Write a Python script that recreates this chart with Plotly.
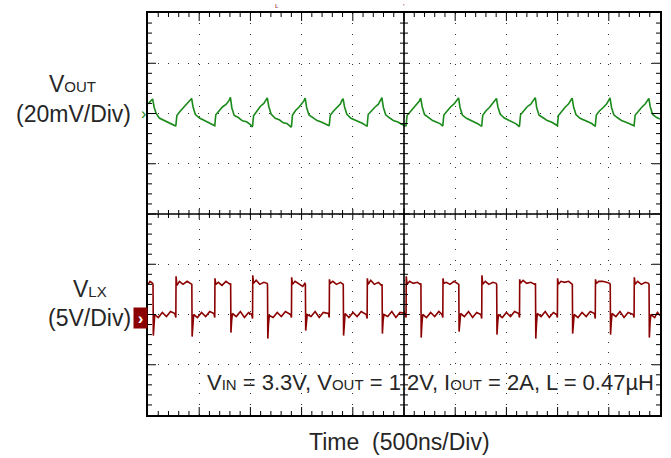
import plotly.graph_objects as go

# ---------------- data ----------------
# time in ns (500 ns / div, 10 div), VOUT ripple in mV (AC, 20 mV/div), VLX in V (5 V/div)
VOUT_T_NS = [
    0, 20, 45, 60, 80, 110, 150, 190, 230, 265,
    272, 282, 312, 347, 382, 413, 426, 440, 463, 503, 543, 583, 618, 647,
    652, 662, 692, 727, 762, 792, 805, 819, 842, 882, 922, 962, 997, 1016,
    1021, 1031, 1061, 1096, 1131, 1152, 1165, 1179, 1202, 1242, 1282, 1322, 1357, 1396,
    1401, 1411, 1441, 1476, 1511, 1522, 1535, 1549, 1572, 1612, 1652, 1692, 1727, 1765,
    1770, 1780, 1810, 1845, 1880, 1892, 1905, 1919, 1942, 1982, 2022, 2062, 2097, 2135,
    2140, 2150, 2180, 2215, 2250, 2271, 2284, 2298, 2321, 2361, 2401, 2441, 2476, 2515,
    2520, 2530, 2560, 2595, 2630, 2650, 2663, 2677, 2700, 2740, 2780, 2820, 2855, 2874,
    2879, 2889, 2919, 2954, 2989, 3020, 3033, 3047, 3070, 3110, 3150, 3190, 3225, 3254,
    3259, 3269, 3299, 3334, 3369, 3390, 3403, 3417, 3440, 3480, 3520, 3560, 3595, 3623,
    3628, 3638, 3668, 3703, 3738, 3769, 3782, 3796, 3819, 3859, 3899, 3939, 3974, 3993,
    3998, 4008, 4038, 4073, 4108, 4129, 4142, 4156, 4179, 4219, 4259, 4299, 4334, 4363,
    4368, 4378, 4408, 4443, 4478, 4499, 4512, 4526, 4549, 4589, 4629, 4669, 4704, 4742,
    4747, 4757, 4787, 4822, 4857, 4878, 4891, 4905, 4928, 4968, 5000,
]
VOUT_MV = [
    3.8, 4.6, 5.8, 2.5, 0.0, -1.8, -2.6, -3.6, -4.2, -4.9,
    -4.8, -0.8, 0.8, 2.4, 3.8, 5.0, 6.0, 2.6, -0.4, -1.8, -2.7, -3.5, -4.1, -4.9,
    -4.9, -0.5, 1.0, 2.6, 3.6, 5.2, 6.4, 2.2, -0.8, -1.6, -2.9, -3.3, -4.3, -5.2,
    -5.0, -0.9, 0.6, 2.8, 4.0, 5.4, 6.2, 2.9, -0.2, -1.9, -2.5, -3.7, -4.0, -5.3,
    -5.1, -0.6, 1.2, 2.6, 4.2, 5.0, 6.1, 2.4, -0.6, -1.7, -2.8, -3.4, -4.2, -4.8,
    -4.7, -0.7, 0.9, 2.2, 3.9, 5.1, 5.9, 2.7, -0.3, -1.9, -2.6, -3.6, -4.0, -5.0,
    -5.0, -0.4, 1.1, 2.5, 3.7, 5.3, 6.3, 2.5, -0.5, -1.8, -2.9, -3.4, -4.3, -4.9,
    -4.9, -0.8, 0.7, 2.3, 3.9, 5.0, 6.1, 2.8, -0.4, -1.7, -2.8, -3.5, -4.1, -4.9,
    -4.8, -0.6, 0.9, 2.6, 3.8, 5.2, 6.2, 2.4, -0.6, -1.9, -2.6, -3.6, -4.2, -5.0,
    -5.0, -0.7, 1.0, 2.4, 4.0, 5.1, 6.0, 2.6, -0.3, -1.8, -2.7, -3.5, -4.1, -5.1,
    -4.9, -0.5, 1.2, 2.7, 3.7, 5.3, 6.3, 2.3, -0.7, -1.7, -2.8, -3.4, -4.2, -4.8,
    -4.8, -0.8, 0.8, 2.5, 3.9, 5.0, 6.1, 2.7, -0.4, -1.9, -2.6, -3.6, -4.0, -5.0,
    -5.0, -0.6, 1.0, 2.3, 3.8, 5.2, 6.2, 2.5, -0.5, -1.8, -2.9, -3.5, -4.1, -4.9,
    -4.9, -0.7, 0.9, 2.5, 3.9, 5.1, 6.0, 2.6, -0.4, -1.6, -2.2,
]

VLX_T_NS = [
    0, 20, 45, 49, 52, 58, 66, 100, 140, 180, 220, 262, 270,
    272, 274, 282, 307, 342, 382, 423, 428, 431, 438, 446, 483, 523, 563, 603, 644, 652,
    654, 662, 687, 722, 762, 802, 807, 810, 817, 825, 862, 902, 942, 982, 1013, 1021,
    1023, 1031, 1056, 1091, 1131, 1162, 1167, 1170, 1177, 1185, 1222, 1262, 1302, 1342, 1393, 1401,
    1403, 1411, 1436, 1471, 1511, 1532, 1537, 1540, 1547, 1555, 1592, 1632, 1672, 1712, 1762, 1770,
    1772, 1780, 1805, 1840, 1880, 1902, 1907, 1910, 1917, 1925, 1962, 2002, 2042, 2082, 2132, 2140,
    2142, 2150, 2175, 2210, 2250, 2281, 2286, 2289, 2296, 2304, 2341, 2381, 2421, 2461, 2512, 2520,
    2522, 2530, 2555, 2590, 2630, 2660, 2665, 2668, 2675, 2683, 2720, 2760, 2800, 2840, 2871, 2879,
    2881, 2889, 2914, 2949, 2989, 3030, 3035, 3038, 3045, 3053, 3090, 3130, 3170, 3210, 3251, 3259,
    3261, 3269, 3294, 3329, 3369, 3400, 3405, 3408, 3415, 3423, 3460, 3500, 3540, 3580, 3620, 3628,
    3630, 3638, 3663, 3698, 3738, 3779, 3784, 3787, 3794, 3802, 3839, 3879, 3919, 3959, 3990, 3998,
    4000, 4008, 4033, 4068, 4108, 4139, 4144, 4147, 4154, 4162, 4199, 4239, 4279, 4319, 4360, 4368,
    4370, 4378, 4403, 4438, 4478, 4509, 4514, 4517, 4524, 4532, 4569, 4609, 4649, 4689, 4739, 4747,
    4749, 4757, 4782, 4817, 4857, 4888, 4893, 4896, 4903, 4911, 4948, 4975, 5000,
]
VLX_V = [
    3.0, 3.3, 3.1, 3.0, -2.1, -0.7, 0.0, -0.3, 0.2, -0.2, 0.3, 0.1, -0.3,
    -0.3, 3.8, 2.9, 3.3, 3.0, 3.3, 3.1, 3.0, -2.2, -0.8, 0.0, -0.3, 0.2, -0.2, 0.3, 0.1, -0.3,
    3.6, 3.0, 3.2, 2.9, 3.3, 3.0, 3.1, -1.8, -0.6, 0.1, -0.2, 0.3, -0.3, 0.2, 0.0, -0.4,
    3.9, 3.1, 3.4, 3.0, 3.2, 3.1, 3.0, -2.4, -0.9, -0.1, -0.3, 0.2, -0.2, 0.3, 0.0, -0.3,
    3.7, 3.0, 3.3, 3.1, 2.8, 3.1, 3.0, -1.6, -0.7, 0.0, -0.2, 0.3, -0.3, 0.2, 0.1, -0.3,
    3.5, 3.1, 3.3, 3.0, 3.2, 3.1, 3.0, -2.1, -0.8, 0.1, -0.3, 0.2, -0.2, 0.3, 0.0, -0.4,
    3.6, 3.0, 3.4, 3.0, 3.2, 2.9, 3.0, -1.9, -0.6, 0.0, -0.2, 0.3, -0.3, 0.2, 0.1, -0.3,
    3.8, 3.0, 3.3, 3.1, 3.2, 3.0, 3.1, -2.3, -0.9, 0.0, -0.3, 0.2, -0.2, 0.3, 0.0, -0.3,
    3.6, 3.1, 3.2, 3.0, 3.3, 3.1, 3.0, -1.7, -0.7, 0.1, -0.2, 0.3, -0.3, 0.2, 0.0, -0.4,
    3.9, 3.0, 3.3, 3.0, 3.2, 3.1, 3.0, -2.0, -0.8, 0.0, -0.3, 0.2, -0.2, 0.3, 0.1, -0.3,
    3.5, 3.1, 3.4, 3.1, 3.2, 3.0, 3.1, -2.4, -0.9, 0.1, -0.2, 0.3, -0.3, 0.2, 0.0, -0.3,
    3.6, 3.0, 3.3, 3.2, 3.3, 3.1, 3.0, -1.9, -0.7, 0.0, -0.3, 0.2, -0.2, 0.3, 0.1, -0.4,
    3.5, 3.1, 3.3, 3.3, 3.2, 3.1, 3.0, -2.0, -0.8, 0.1, -0.2, 0.3, -0.3, 0.2, 0.0, -0.3,
    3.7, 3.0, 3.3, 3.0, 3.2, 3.1, 3.0, -2.3, -0.8, 0.0, -0.3, 0.2, -0.1,
]

TIME_RANGE_NS = [0, 5000]      # 10 div x 500 ns
TIME_DIV_NS = 500
TIME_SUBDIV_NS = 100
VOUT_RANGE_MV = [-120, 40]     # 8 div x 20 mV, 0 mV two div below top
VOUT_DIV_MV = 20
VOUT_SUBDIV_MV = 4
VLX_RANGE_V = [-10, 30]        # 8 div x 5 V, 0 V two div above bottom
TIME_CENTER_NS = 2500
VOUT_CENTER_MV = -40

SUB = "<span style='font-size:15px'>{}</span>"
VOUT_LABEL = "V" + SUB.format("OUT")
VOUT_SCALE = "(20mV/Div)"
VLX_LABEL = "V" + SUB.format("LX")
VLX_SCALE = "(5V/Div)"
X_TITLE = "Time  (500ns/Div)"
COND = ("V" + SUB.format("IN") + " = 3.3V, V" + SUB.format("OUT") + " = 1.2V, I"
        + SUB.format("OUT") + " = 2A, L = 0.47µH")

GREEN = "#1a8a1a"
MAROON = "#8b0000"
FONT = "Liberation Sans, Arial, sans-serif"
TXT = "#262626"

fig = go.Figure()
fig.add_trace(go.Scatter(x=VOUT_T_NS, y=VOUT_MV, mode="lines",
                         line=dict(color=GREEN, width=1.6), xaxis="x", yaxis="y",
                         showlegend=False, hoverinfo="skip"))
fig.add_trace(go.Scatter(x=VLX_T_NS, y=VLX_V, mode="lines",
                         line=dict(color=MAROON, width=1.6), xaxis="x", yaxis="y2",
                         showlegend=False, hoverinfo="skip"))

fig.update_layout(
    width=671, height=458,
    margin=dict(l=148, r=9, t=13, b=43),
    paper_bgcolor="white", plot_bgcolor="white",
    font=dict(family=FONT, color=TXT),
    xaxis=dict(range=TIME_RANGE_NS, dtick=TIME_DIV_NS, tick0=0, showline=True, linewidth=1.6,
               linecolor="black", mirror=True, ticks="", showticklabels=False, zeroline=False,
               showgrid=True, gridcolor="#333", gridwidth=1, griddash="1px,9.28px"),
    yaxis=dict(range=VOUT_RANGE_MV, dtick=VOUT_DIV_MV, tick0=0, showline=True, linewidth=1.6,
               linecolor="black", mirror=True, ticks="", showticklabels=False, zeroline=False,
               showgrid=True, gridcolor="#333", gridwidth=1, griddash="1px,9.05px"),
    yaxis2=dict(range=VLX_RANGE_V, overlaying="y", visible=False),
)

# ---------------- graticule: centre cross and sub-division ticks ----------------
shapes = []
blk = dict(color="black", width=1.6)
thin = dict(color="black", width=1)
shapes.append(dict(type="line", xref="x", x0=TIME_CENTER_NS, x1=TIME_CENTER_NS,
                   yref="paper", y0=0, y1=1, line=blk))
shapes.append(dict(type="line", yref="y", y0=VOUT_CENTER_MV, y1=VOUT_CENTER_MV,
                   xref="paper", x0=0, x1=1, line=blk))

n_x = (TIME_RANGE_NS[1] - TIME_RANGE_NS[0]) // TIME_SUBDIV_NS
for i in range(1, n_x):
    t = TIME_RANGE_NS[0] + i * TIME_SUBDIV_NS
    major = (t % TIME_DIV_NS) == 0
    L = 8 if major else 4
    C = 5 if major else 4
    base = dict(type="line", xref="x", x0=t, x1=t, yref="paper", ysizemode="pixel", line=thin)
    shapes.append(dict(base, yanchor=1, y0=0, y1=-L))
    shapes.append(dict(base, yanchor=0, y0=0, y1=L))
    shapes.append(dict(base, yanchor=0.5, y0=-C, y1=C))

n_y = (VOUT_RANGE_MV[1] - VOUT_RANGE_MV[0]) // VOUT_SUBDIV_MV
for i in range(1, n_y):
    v = VOUT_RANGE_MV[0] + i * VOUT_SUBDIV_MV
    major = (v % VOUT_DIV_MV) == 0
    L = 8 if major else 4
    C = 5 if major else 4
    base = dict(type="line", yref="y", y0=v, y1=v, xref="paper", xsizemode="pixel", line=thin)
    shapes.append(dict(base, xanchor=0, x0=0, x1=L))
    shapes.append(dict(base, xanchor=1, x0=0, x1=-L))
    shapes.append(dict(base, xanchor=0.5, x0=-C, x1=C))

fig.update_layout(shapes=shapes)

# ---------------- text ----------------
ann = []
ann.append(dict(text=VOUT_LABEL, xref="paper", x=0, xanchor="center", xshift=-76,
                yref="y", y=0, yanchor="middle", yshift=30, showarrow=False,
                font=dict(size=23, color=TXT)))
ann.append(dict(text=VOUT_SCALE, xref="paper", x=0, xanchor="right", xshift=-15,
                yref="y", y=0, yanchor="middle", showarrow=False,
                font=dict(size=23, color=TXT)))
ann.append(dict(text=VLX_LABEL, xref="paper", x=0, xanchor="center", xshift=-58,
                yref="y2", y=0, yanchor="middle", yshift=26, showarrow=False,
                font=dict(size=23, color=TXT)))
ann.append(dict(text=VLX_SCALE, xref="paper", x=0, xanchor="right", xshift=-15,
                yref="y2", y=0, yanchor="middle", yshift=-3, showarrow=False,
                font=dict(size=23, color=TXT)))
# channel reference markers
ann.append(dict(text="›", xref="paper", x=0, xanchor="right", xshift=0,
                yref="y", y=0, yanchor="middle", showarrow=False,
                font=dict(size=16, color=GREEN)))
ann.append(dict(text="<b>›</b>", xref="paper", x=0, xanchor="right", xshift=0,
                yref="y2", y=0, yanchor="middle", yshift=-3, showarrow=False,
                bgcolor=MAROON, borderpad=1, width=11, height=18,
                font=dict(size=17, color="white")))
# operating conditions
ann.append(dict(text=COND, xref="paper", x=1, xanchor="right", xshift=-4,
                yref="y2", y=-6.8, yanchor="middle", showarrow=False,
                font=dict(size=22, color=TXT)))
# x axis title
ann.append(dict(text=X_TITLE, xref="x", x=2460, xanchor="center",
                yref="paper", y=0, yanchor="top", yshift=-12, showarrow=False,
                font=dict(size=23, color=TXT)))
# small trigger markers at the top
ann.append(dict(text="ʟ", xref="x", x=1250, yref="paper", y=1, yanchor="bottom", yshift=1,
                showarrow=False, font=dict(size=8, color="#a03030")))
ann.append(dict(text="'", xref="x", x=2500, yref="paper", y=1, yanchor="bottom", yshift=0,
                showarrow=False, font=dict(size=8, color="#a03030")))
fig.update_layout(annotations=ann)

fig.write_html("out.html", post_script="document.body.style.margin='0';",
               config=dict(displayModeBar=False))
